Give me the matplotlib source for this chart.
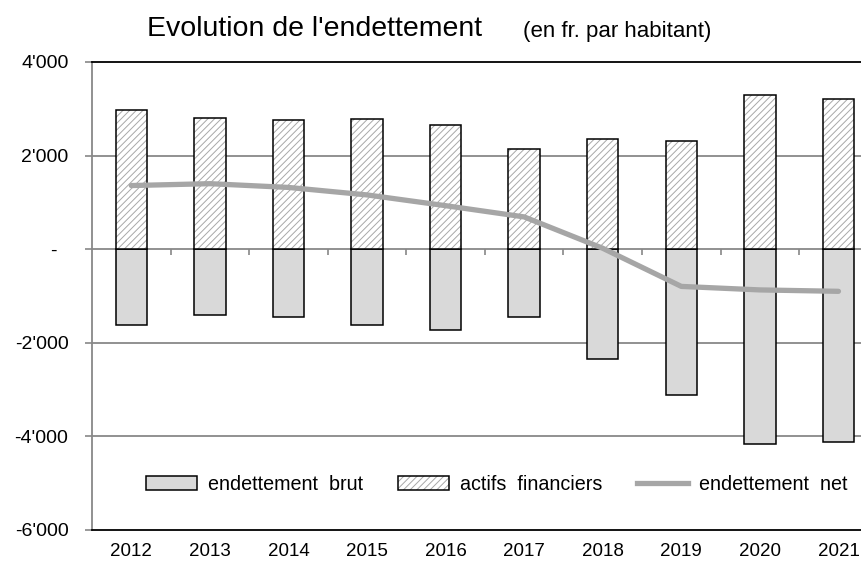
import numpy as np
import matplotlib
matplotlib.use("Agg")
import matplotlib.pyplot as plt
from matplotlib import font_manager
from matplotlib.patches import Patch
from matplotlib.lines import Line2D
from matplotlib.legend_handler import HandlerTuple
from matplotlib.ticker import FuncFormatter


# données (fr. par habitant)
annees = ["2012", "2013", "2014", "2015", "2016", "2017", "2018", "2019", "2020", "2021"]
endettement_brut = [-1610, -1400, -1450, -1625, -1720, -1455, -2350, -3105, -4160, -4120]
actifs_financiers = [2970, 2800, 2770, 2785, 2650, 2145, 2355, 2310, 3290, 3220]
endettement_net = [1360, 1400, 1320, 1160, 930, 690, 20, -795, -870, -900]

noms_installes = {f.name for f in font_manager.fontManager.ttflist}
police_etroite = "Liberation Sans Narrow" if "Liberation Sans Narrow" in noms_installes else "Liberation Sans"
police = "Liberation Sans"

GRIS_HACHURE = "#a8a8a8"
plt.rcParams["hatch.linewidth"] = 0.7

fig = plt.figure(figsize=(8.61, 5.61), dpi=100)
ax = fig.add_axes([92 / 861, 31 / 561, (877.75 - 92) / 861, (530 - 62) / 561])

x = np.arange(len(annees))
largeur = 0.4

ax.bar(x, endettement_brut, largeur, color="#d9d9d9", edgecolor="black", linewidth=1.1, zorder=3)
# hachures grises, puis contour noir par-dessus
ax.bar(x, actifs_financiers, largeur, color="white", edgecolor=GRIS_HACHURE, linewidth=0,
       hatch="/////", zorder=3)
ax.bar(x, actifs_financiers, largeur, fill=False, edgecolor="black", linewidth=1.1, zorder=3)
ax.plot(x, endettement_net, color="#a6a6a6", linewidth=3.8, solid_capstyle="round",
        solid_joinstyle="round", zorder=4)

ax.set_xlim(-0.5, len(annees) - 0.5)
ax.set_ylim(-6000, 4000)

# grille + ligne du zéro
for v in [2000, -2000, -4000]:
    ax.axhline(v, color="#888888", linewidth=1.3, zorder=1)
ax.axhline(0, color="#888888", linewidth=1.3, zorder=2)
bornes = x[:-1] + 0.5
ax.vlines(bornes, 0, -130, color="#888888", linewidth=1.2, zorder=2)

ax.spines["right"].set_visible(False)
ax.spines["top"].set_color("black")
ax.spines["top"].set_linewidth(1.3)
ax.spines["bottom"].set_color("black")
ax.spines["bottom"].set_linewidth(1.3)
ax.spines["left"].set_color("#888888")
ax.spines["left"].set_linewidth(1.3)


def fmt_milliers(v, pos):
    if v == 0:
        return "-  "
    s = f"{abs(v):,.0f}".replace(",", "'")
    return ("-" if v < 0 else "") + s


ax.set_yticks([4000, 2000, 0, -2000, -4000, -6000])
ax.yaxis.set_major_formatter(FuncFormatter(fmt_milliers))
ax.tick_params(axis="y", length=5, width=1.2, color="#888888", pad=12)
for lab in ax.get_yticklabels():
    lab.set_fontfamily(police)
    lab.set_fontsize(14)

ax.set_xticks(x)
ax.set_xticklabels(annees, fontfamily=police_etroite, fontsize=13.5)
ax.tick_params(axis="x", length=0, pad=9)

# légende
poignees = [
    Patch(facecolor="#d9d9d9", edgecolor="black", linewidth=1.1),
    (Patch(facecolor="white", edgecolor=GRIS_HACHURE, linewidth=0, hatch="/////"),
     Patch(fill=False, edgecolor="black", linewidth=1.1)),
    Line2D([0], [0], color="#a6a6a6", linewidth=3.8),
]
etiquettes = ["endettement  brut", "actifs  financiers", "endettement  net"]
ax.legend(poignees, etiquettes, loc="center", bbox_to_anchor=(0.515, 0.098), ncol=3,
          frameon=False, prop={"family": police_etroite, "size": 14.2},
          handler_map={tuple: HandlerTuple(ndivide=1, pad=0)},
          handlelength=2.6, handleheight=0.75, handletextpad=0.55, columnspacing=1.75)

# titre
fig.text(147 / 861, 1 - 29 / 561, "Evolution de l'endettement", fontfamily=police_etroite,
         fontsize=20.5, ha="left", va="center")
fig.text(523 / 861, 1 - 31 / 561, "(en fr. par habitant)", fontfamily=police_etroite,
         fontsize=16, ha="left", va="center")

fig.savefig("out.png", dpi=100)
